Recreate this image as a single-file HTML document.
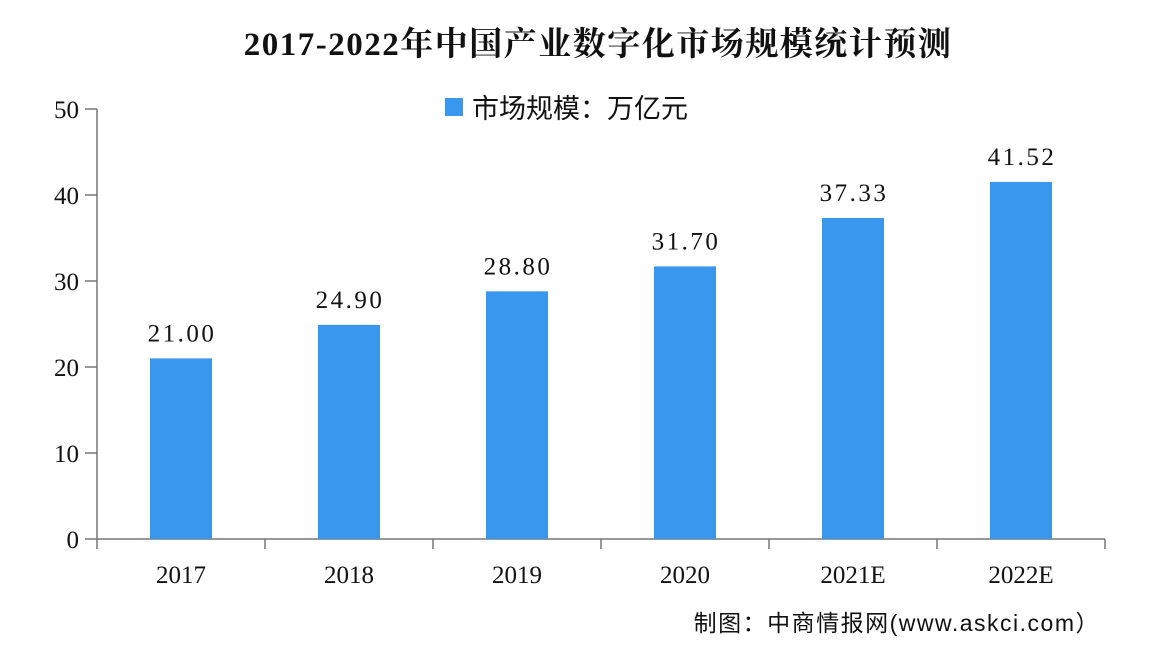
<!DOCTYPE html>
<html><head><meta charset="utf-8"><style>
body{margin:0;background:#fff}
svg{display:block}
text{font-family:"Liberation Serif","Noto Serif CJK SC",serif;fill:#111}
</style></head><body>
<svg id="chart" width="1152" height="654" viewBox="0 0 1152 654">
<text x="598" y="55" text-anchor="middle" font-size="33" font-weight="bold" letter-spacing="1.5">2017-2022年中国产业数字化市场规模统计预测</text>
<g>
<rect x="445" y="98" width="18" height="18" fill="#3a97ee"/>
<text x="472" y="118" font-size="27" style="font-family:'Liberation Sans','Noto Sans CJK SC',sans-serif">市场规模：万亿元</text>
</g>
<g id="axes"></g>
<g id="bars"></g>
<text x="1100" y="631" text-anchor="end" font-size="23" letter-spacing="1.5" style="font-family:'Liberation Sans','Noto Sans CJK SC',sans-serif" fill="#222">制图：中商情报网(www.askci.com）</text>
</svg>
<script>
const categories=["2017","2018","2019","2020","2021E","2022E"];
const values=[21.00,24.90,28.80,31.70,37.33,41.52];
const yTicks=[0,10,20,30,40,50];
const NS="http://www.w3.org/2000/svg";
const x0=97,x1=1105,y0=539,y1=109,yMax=50;
const band=(x1-x0)/categories.length;
const ys=v=>y0-(v/yMax)*(y0-y1);
const xc=i=>x0+band*(i+0.5);
function mk(t,a,p){const e=document.createElementNS(NS,t);for(const k in a)e.setAttribute(k,a[k]);p.appendChild(e);return e;}
const ax=document.getElementById('axes'),bg=document.getElementById('bars');
let l=mk('line',{x1:x0,y1:y1,x2:x0,y2:y0,stroke:'#777','stroke-width':1.5},ax);


l=mk('line',{x1:x0,y1:y0,x2:x1,y2:y0,stroke:'#777','stroke-width':1.5},ax);


yTicks.forEach(v=>{
 const t=mk('line',{x1:x0-12,y1:ys(v),x2:x0,y2:ys(v),stroke:'#777','stroke-width':1.5},ax);
 
 
 const tx=mk('text',{x:x0-18,y:ys(v)+9,'text-anchor':'end','font-size':25},ax);
 tx.textContent=v;
 
 
});
for(let i=0;i<=categories.length;i++){
 const t=mk('line',{x1:x0+band*i,y1:y0,x2:x0+band*i,y2:y0+10,stroke:'#777','stroke-width':1.5},ax);
 
 
}
categories.forEach((c,i)=>{
 const w=62;
 const r=mk('rect',{x:xc(i)-w/2,y:ys(values[i]),width:w,height:y0-ys(values[i]),fill:'#3a97ee'},bg);
 
 
 const vt=mk('text',{x:xc(i)+1,y:ys(values[i])-17,'text-anchor':'middle','font-size':25,'letter-spacing':2.5},bg);
 vt.textContent=values[i].toFixed(2);
 
 
 const ct=mk('text',{x:xc(i),y:583,'text-anchor':'middle','font-size':25},bg);
 ct.textContent=c;
 
 
});
</script>
</body></html>
